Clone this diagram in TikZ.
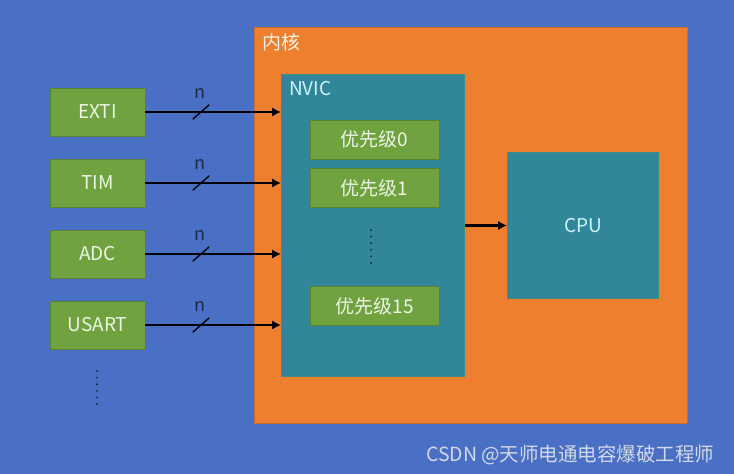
\documentclass[tikz,border=0pt]{standalone}
\usepackage{fontspec}
\setmainfont{Noto Sans CJK SC}
\usetikzlibrary{arrows.meta}

\definecolor{bgblue}{HTML}{4A70C6}
\definecolor{coreorange}{HTML}{ED7F2F}
\definecolor{nvicteal}{HTML}{31869A}
\definecolor{blockgreen}{HTML}{70A33F}
\definecolor{lighttext}{HTML}{EDF4E6}
\definecolor{cyantext}{HTML}{CFF3FA}
\definecolor{dotnavy}{HTML}{1C2A48}
\definecolor{marktext}{HTML}{D3D8E6}

\tikzset{
  labelfont/.style={font=\fontsize{19}{22}\selectfont},
  periph/.style={draw=blockgreen!80!black, line width=0.8pt, fill=blockgreen, text=lighttext,
    minimum width=95pt, minimum height=48pt, inner sep=0pt, labelfont},
  prio/.style={periph, minimum width=129pt, minimum height=39pt},
  tealbox/.style={draw=nvicteal!75!blockgreen, line width=1pt, fill=nvicteal, anchor=north west, inner sep=0pt},
  sig/.style={line width=2.5pt, -{Latex[length=9pt,width=9.5pt]}},
  bus/.style={line width=1.4pt, line cap=round},
  vdots/.style={line width=2.1pt, dotnavy, line cap=round, dash pattern=on 0pt off 6.6pt},
}

\begin{document}
\begin{tikzpicture}[x=1pt,y=-1pt]
%
	\fill[bgblue] (0,0) rectangle (734,474);
%
	% core
	\node[draw=coreorange!85!black, line width=0.8pt, fill=coreorange, anchor=north west,
	  minimum width=433pt, minimum height=396pt, inner sep=0pt] (core) at (254,27) {};
	\node[labelfont, text=lighttext, anchor=north west, inner sep=0pt] (corelabel)
	  at ([shift={(8,6)}]core.north west) {内核};
%
	% NVIC and its priorities
	\node[tealbox, minimum width=183pt, minimum height=302pt] (nvic) at (281,74) {};
	\node[labelfont, text=cyantext, anchor=north west, inner sep=0pt] (nviclabel)
	  at ([shift={(8,7)}]nvic.north west) {NVIC};
	\node[prio] (p0) at (374.5,139.5) {优先级0};
	\node[prio] (p1) at (374.5,188) {优先级1};
	\node[prio] (p15) at (374.5,306) {优先级15};
	\draw[vdots] (371,230) -- (371,264);
%
	% CPU
	\node[tealbox, minimum width=151pt, minimum height=146pt] (cpu) at (507,152) {};
	\node[labelfont, text=cyantext] (cpulabel) at (cpu.center) {CPU};
	\draw[sig] (nvic.east |- cpu.west) -- (cpu.west);
%
	% peripherals
	\foreach \name/\txt/\y in {exti/EXTI/112, tim/TIM/183, adc/ADC/254, usart/USART/325} {
		\node[periph] (\name) at (97.5,\y) {\txt};
		\draw[sig] (\name.east) -- coordinate[pos=0.41] (\name-bus) (\name.east -| nvic.west);
		\draw[bus] ([shift={(-8,7)}]\name-bus) -- ([shift={(8,-7)}]\name-bus);
		\node[font=\fontsize{18}{20}\selectfont, text=dotnavy] (\name-n)
		  at ([shift={(-1,-19)}]\name-bus) {n};
	}
	\draw[vdots] (97,371) -- (97,405);
%
	\node[font=\fontsize{19.5}{22}\selectfont, text=marktext, anchor=east] (mark)
	  at (718,455) {CSDN @天师电通电容爆破工程师};
\end{tikzpicture}
\end{document}
